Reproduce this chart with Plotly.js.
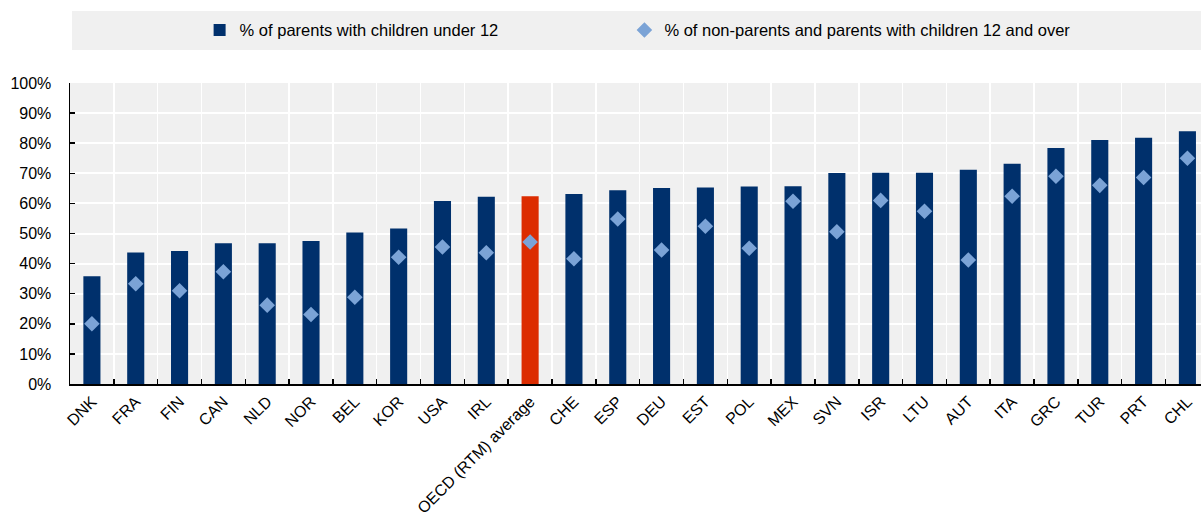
<!DOCTYPE html>
<html>
<head>
<meta charset="utf-8">
<script src="https://cdn.plot.ly/plotly-3.0.1.min.js"></script>
<style>html,body{margin:0;padding:0;background:#fff;}#chart{width:1201px;height:512px;}</style>
</head>
<body>
<div id="chart"></div>
<script>
const categories = ["DNK","FRA","FIN","CAN","NLD","NOR","BEL","KOR","USA","IRL","OECD (RTM) average","CHE","ESP","DEU","EST","POL","MEX","SVN","ISR","LTU","AUT","ITA","GRC","TUR","PRT","CHL"];
const parentsUnder12 = [35.8,43.7,44.2,46.8,46.8,47.5,50.3,51.7,60.8,62.2,62.4,63.1,64.4,65.1,65.3,65.6,65.7,70.1,70.2,70.2,71.2,73.2,78.4,81.1,81.8,84.0];
const nonParents12Over = [20.0,33.3,31.0,37.3,26.2,23.1,28.8,42.1,45.5,43.6,47.2,41.6,54.8,44.5,52.4,45.1,60.7,50.6,61.0,57.4,41.2,62.4,69.0,66.0,68.6,75.0];
const seriesNames = ["% of parents with children under 12","% of non-parents and parents with children 12 and over"];
const yTickVals = [0,10,20,30,40,50,60,70,80,90,100];

const navy = "#00306c";
const red = "#dc2c00";
const light = "#7ba3d6";
const barColors = categories.map(c => c.indexOf("OECD") === 0 ? red : navy);
const FONT = "'Liberation Sans', Arial, sans-serif";

const traces = [
  {
    type: "bar",
    name: seriesNames[0],
    x: categories,
    y: parentsUnder12,
    width: 0.39,
    marker: {color: barColors, line: {width: 0}},
    legend: "legend",
    hoverinfo: "x+y"
  },
  {
    type: "scatter",
    mode: "markers",
    name: seriesNames[1],
    x: categories,
    y: nonParents12Over,
    marker: {symbol: "diamond", size: 12, color: light},
    legend: "legend2",
    hoverinfo: "x+y"
  }
];

const legendCommon = {
  orientation: "h",
  xanchor: "left",
  y: 1.175, yanchor: "middle",
  bgcolor: "rgba(0,0,0,0)",
  font: {family: FONT, size: 16.5, color: "#000"}
};

const layout = {
  width: 1201,
  height: 512,
  margin: {l: 70, r: 0, t: 83, b: 128},
  paper_bgcolor: "#ffffff",
  plot_bgcolor: "#f0f0f0",
  font: {family: FONT, size: 16, color: "#000"},
  showlegend: true,
  legend: Object.assign({}, legendCommon, {x: 0.1146}),
  legend2: Object.assign({}, legendCommon, {x: 0.4902}),
  bargap: 0.6,
  xaxis: {
    type: "category",
    range: [-0.5, 25.31],
    tickson: "boundaries",
    ticks: "inside",
    ticklen: 5,
    tickwidth: 1.5,
    tickcolor: "#000",
    tickangle: -45,
    showgrid: true,
    gridcolor: "#ffffff",
    gridwidth: 1.5,
    showline: true,
    linecolor: "#000",
    linewidth: 2,
    tickfont: {family: FONT, size: 16, color: "#000"},
    fixedrange: true
  },
  yaxis: {
    range: [0, 100],
    tickvals: yTickVals,
    ticktext: yTickVals.map(v => v + "%"),
    ticks: "inside",
    ticklen: 5,
    tickwidth: 1.5,
    tickcolor: "#000",
    ticklabelstandoff: 14,
    showgrid: true,
    gridcolor: "#ffffff",
    gridwidth: 2,
    zeroline: false,
    showline: true,
    linecolor: "#000",
    linewidth: 1.5,
    tickfont: {family: FONT, size: 16, color: "#000"},
    fixedrange: true
  },
  shapes: [
    {type: "rect", xref: "paper", yref: "paper", x0: 0.0018, x1: 1, y0: 1.1096, y1: 1.239,
     fillcolor: "#f0f0f0", line: {width: 0}, layer: "below"}
  ]
};

Plotly.newPlot("chart", traces, layout, {displayModeBar: false, staticPlot: true});
</script>
</body>
</html>
